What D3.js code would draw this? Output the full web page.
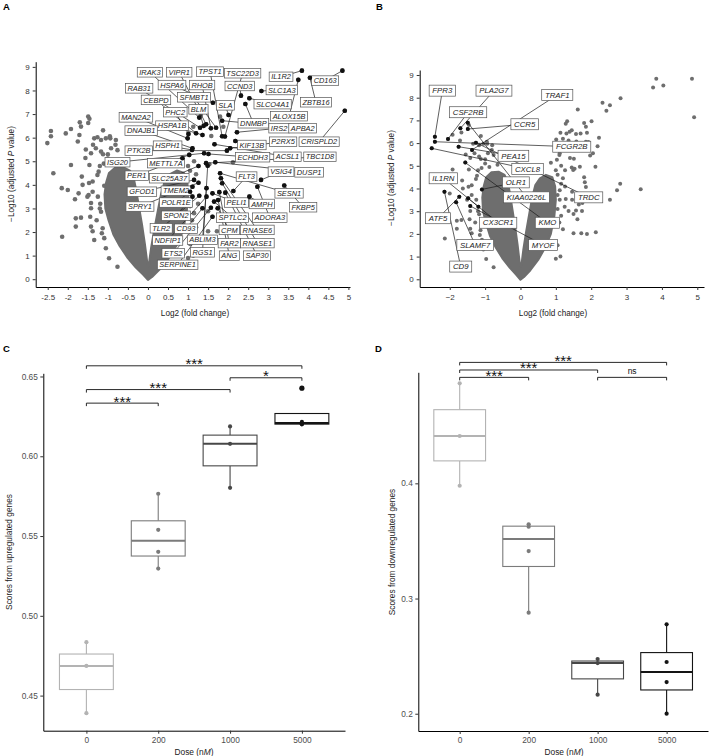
<!DOCTYPE html>
<html>
<head>
<meta charset="utf-8">
<script src="https://cdn.jsdelivr.net/npm/d3@7"></script>
<style>
  body { margin: 0; background: #fff; }
  svg { font-family: "Liberation Sans", Arial, Helvetica, sans-serif; }
</style>
</head>
<body>
<svg id="fig" width="709" height="756"></svg>
<script>
// ---- volcano data (log2 fold change, -log10 adjusted P) ----
// outline of the solid V-shaped cloud of non-significant genes
const volcanoCore = [
  [0, -0.02], [-0.12, 0.2], [-0.3, 0.5], [-0.5, 0.9], [-0.7, 1.4], [-0.86, 1.9],
  [-0.98, 2.5], [-1.06, 3.0], [-1.08, 3.6], [-1.04, 4.1], [-0.97, 4.5], [-0.82, 4.72],
  [-0.62, 4.74], [-0.45, 4.6], [-0.36, 4.3], [-0.3, 3.8], [-0.23, 3.1], [-0.15, 2.3],
  [-0.08, 1.5], [-0.02, 0.7], [0.02, 0.55], [0.08, 1.3], [0.16, 2.1], [0.25, 2.9],
  [0.33, 3.6], [0.42, 4.15], [0.55, 4.45], [0.72, 4.6], [0.9, 4.5], [0.98, 4.1],
  [1.0, 3.5], [0.96, 2.8], [0.86, 2.0], [0.7, 1.4], [0.5, 0.85], [0.28, 0.4], [0.1, 0.1]
];

// scattered genes outside the cloud, not labelled
const volcanoPts = [
  [-2.36, 4.49], [-2.14, 1.80], [-1.92, 6.37], [-1.92, 4.84], [-1.67, 6.47], [-1.46, 6.80],
  [-1.46, 4.84], [-1.34, 5.97], [-1.17, 5.90], [-1.05, 5.97], [-0.94, 5.97], [-1.30, 5.55],
  [-1.17, 5.41], [-1.12, 5.30], [-2.00, 3.78], [-1.63, 4.00], [-1.38, 4.14], [-1.38, 3.71],
  [-1.26, 4.42], [-1.80, 2.58], [-1.44, 2.65], [-1.80, 2.23], [-1.42, 2.23], [-1.17, 2.86],
  [-1.13, 2.16], [-1.09, 1.74], [-1.05, 1.31], [-0.97, 0.89], [-0.76, 0.53], [-1.42, 5.34],
  [-0.92, 5.55], [-0.80, 5.90], [-1.71, 6.11], [-1.65, 4.35], [-1.51, 3.50], [-1.42, 3.01],
  [-1.20, 4.80], [-1.10, 4.90], [-1.00, 5.10], [-1.25, 3.50], [-1.20, 3.00], [-1.28, 2.50],
  [-1.15, 1.95], [-1.34, 1.66], [-1.38, 2.03], [-1.67, 2.61], [-1.47, 4.08], [-0.81, 5.70],
  [-0.95, 6.06], [-1.12, 6.31], [-0.76, 5.47], [-1.00, 5.29], [-0.88, 4.95], [-0.65, 5.05],
  [-1.55, 5.50], [-1.23, 4.56],
  [1.13, 6.46], [1.88, 6.46], [2.12, 4.96], [1.53, 4.87], [1.50, 2.88], [1.50, 2.03],
  [1.88, 2.00], [2.13, 2.07], [1.13, 1.00], [1.72, 2.03], [1.00, 0.90], [1.05, 1.50],
  [1.10, 2.50], [1.20, 2.20], [1.32, 6.96], [1.58, 6.07], [1.80, 6.89], [1.15, 5.00],
  [1.05, 4.60], [1.20, 4.45], [1.00, 4.80], [1.25, 3.20], [1.05, 3.10], [1.15, 2.80]
];

// [gene, log2FC, -log10 P, label log2FC, label -log10 P]
const upGenes = [
  ['IRAK3', 1.28, 6.85, 0.05, 8.77], ['VIPR1', 1.45, 6.57, 0.78, 8.77],
  ['TPST1', 1.85, 6.06, 1.55, 8.80], ['TSC22D3', 1.92, 6.05, 2.36, 8.73],
  ['IL1R2', 3.84, 8.84, 3.32, 8.58], ['CD163', 4.85, 8.84, 4.42, 8.42],
  ['RAB31', 1.30, 6.42, -0.22, 8.09], ['HSPA6', 1.62, 7.48, 0.60, 8.23],
  ['RHOB', 1.57, 6.40, 1.35, 8.23], ['CCND3', 2.32, 7.78, 2.29, 8.19],
  ['SLC1A3', 2.83, 7.98, 3.34, 8.02], ['CEBPD', 1.20, 6.19, 0.20, 7.60],
  ['SFMBT1', 1.70, 6.42, 1.15, 7.71], ['SLA', 2.01, 6.96, 1.93, 7.37],
  ['SLCO4A1', 2.53, 7.67, 3.11, 7.42], ['ZBTB16', 4.04, 8.54, 4.19, 7.50],
  ['PHC2', 1.01, 6.16, 0.68, 7.08], ['BLM', 1.39, 6.50, 1.26, 7.20],
  ['MAN2A2', 0.99, 5.97, -0.30, 6.86], ['ALOX15B', 3.75, 8.45, 3.52, 6.91],
  ['HSPA1B', 1.36, 6.11, 0.60, 6.51], ['DNMBP', 2.43, 7.43, 2.63, 6.61],
  ['DNAJB1', 1.11, 5.55, -0.17, 6.30], ['IRS2', 2.22, 6.23, 3.27, 6.40],
  ['APBA2', 1.85, 6.72, 3.86, 6.40], ['HSPH1', 1.10, 5.48, 0.49, 5.66],
  ['KIF13B', 2.18, 5.86, 2.59, 5.69], ['P2RX5', 2.05, 5.55, 3.37, 5.83],
  ['CRISPLD2', 4.91, 7.14, 4.27, 5.83], ['PTK2B', 1.97, 5.45, -0.23, 5.45],
  ['ISG20', 1.40, 5.34, -0.76, 4.96], ['METTL7A', 1.03, 5.27, 0.45, 4.92],
  ['ECHDH3', 1.51, 5.31, 2.61, 5.17], ['ACSL1', 1.66, 5.72, 3.48, 5.19],
  ['TBC1D8', 1.45, 4.92, 4.29, 5.19], ['PER1', 0.86, 5.13, -0.28, 4.39],
  ['SLC25A37', 1.26, 4.80, 0.53, 4.28], ['VSIG4', 2.82, 4.21, 3.32, 4.56],
  ['DUSP1', 1.68, 4.96, 4.02, 4.53], ['FLT3', 2.13, 3.74, 2.46, 4.35],
  ['GFOD1', 1.15, 4.21, -0.15, 3.71], ['TMEM2', 1.11, 3.92, 0.70, 3.75],
  ['SESN1', 1.80, 4.49, 3.52, 3.64], ['SPRY1', 1.26, 4.09, -0.20, 3.08],
  ['POLR1E', 1.05, 3.71, 0.70, 3.25], ['PELI1', 1.61, 3.64, 2.21, 3.25],
  ['AMPH', 2.53, 3.50, 2.84, 3.19], ['FKBP5', 3.40, 3.97, 3.87, 3.05],
  ['SPON2', 1.11, 3.50, 0.70, 2.69], ['SPTLC2', 1.65, 3.29, 2.11, 2.61],
  ['ADORA3', 2.73, 3.92, 3.04, 2.61], ['TLR2', 1.28, 3.54, 0.33, 2.16],
  ['CD93', 1.36, 3.01, 0.95, 2.14], ['CPM', 1.74, 3.01, 2.03, 2.09],
  ['RNASE6', 1.82, 4.28, 2.73, 2.09], ['NDFIP1', 1.46, 3.50, 0.49, 1.64],
  ['ABLIM3', 1.46, 3.86, 1.36, 1.67], ['FAR2', 1.78, 3.69, 2.03, 1.53],
  ['RNASE1', 1.85, 4.07, 2.73, 1.53], ['ETS2', 1.57, 3.03, 0.63, 1.10],
  ['RGS1', 1.49, 4.81, 1.36, 1.14], ['ANG', 1.75, 3.36, 2.03, 1.00],
  ['SAP30', 1.93, 3.67, 2.72, 1.00], ['SERPINE1', 1.61, 2.65, 0.74, 0.61]
];

const downGenes = [
  ['FPR3', -2.42, 6.28, -2.21, 8.31], ['PLA2G7', -1.70, 6.65, -0.75, 8.31],
  ['TRAF1', -1.37, 5.70, 1.04, 8.12], ['CSF2RB', -2.05, 6.18, -1.48, 7.36],
  ['CCR5', -1.49, 6.62, 0.12, 6.83], ['FCGR2B', -2.42, 6.06, 1.45, 5.84],
  ['PEA15', -1.75, 5.84, -0.20, 5.44], ['CXCL8', -2.51, 5.77, 0.20, 4.86],
  ['IL1RN', -1.19, 3.20, -2.18, 4.45], ['OLR1', -1.09, 3.96, -0.13, 4.27],
  ['KIAA0226L', -1.49, 6.90, 0.17, 3.61], ['TRDC', -1.26, 6.02, 1.93, 3.61],
  ['ATF5', -1.73, 3.64, -2.33, 2.69], ['CX3CR1', -1.48, 3.57, -0.63, 2.49],
  ['KMO', -1.56, 5.14, 0.76, 2.49], ['SLAMF7', -1.82, 3.39, -1.28, 1.51],
  ['MYOF', -1.42, 3.23, 0.64, 1.51], ['CD9', -2.15, 3.86, -1.69, 0.56]
];

const volcanoYTicks = [0, 1, 2, 3, 4, 5, 6, 7, 8, 9];
const volcanoXTicksA = [-2.5, -2, -1.5, -1, -0.5, 0, 0.5, 1, 1.5, 2, 2.5, 3, 3.5, 4, 4.5, 5];
const volcanoXTicksB = [-2, -1, 0, 1, 2, 3, 4, 5];

// ---- dose response scores ----
const doseLevels = ['0', '200', '1000', '5000'];
const upScores = [
  [0.4390, 0.4686, 0.4835],
  [0.5296, 0.5401, 0.5539, 0.5765],
  [0.5802, 0.6078, 0.6187],
  [0.6200, 0.6202, 0.6215, 0.6427]
];
const downScores = [
  [0.3979, 0.4411, 0.4868],
  [0.2877, 0.3412, 0.3623, 0.3644],
  [0.2165, 0.2440, 0.2475],
  [0.2000, 0.2275, 0.2449, 0.2776]
];
const upYTicks = [0.45, 0.50, 0.55, 0.60, 0.65];
const downYTicks = [0.2, 0.3, 0.4];
// [from, to, bracket height, label]
const upBrackets = [
  ['0', '5000', 0.6567, '***'], ['1000', '5000', 0.6492, '*'],
  ['0', '1000', 0.6418, '***'], ['0', '200', 0.6333, '***']
];
const downBrackets = [
  ['0', '5000', 0.5050, '***'], ['0', '1000', 0.4984, '***'],
  ['0', '200', 0.4920, '***'], ['1000', '5000', 0.4920, 'ns']
];

const GREY = '#6e6e6e';
const doseColors = ['#b3b3b3', '#7b7b7b', '#474747', '#141414'];

const svg = d3.select('#fig');

function styleAxis(g, size, color) {
  g.attr('font-family', null).attr('font-size', null);
  g.select('.domain').attr('stroke', '#000').attr('stroke-width', 1);
  g.selectAll('.tick line').attr('stroke', '#333');
  g.selectAll('.tick text').attr('font-size', size).attr('fill', color);
}

function panelLabel(txt, x, y) {
  svg.append('text').attr('x', x).attr('y', y)
    .attr('font-size', 9.5).attr('font-weight', 'bold').text(txt);
}

/**
 * 볼케이노 플롯
 */
function drawVolcano(o) {
  const g = svg.append('g');
  const x = d3.scaleLinear().domain(o.xDomain).range(o.xRange);
  const y = d3.scaleLinear().domain(o.yDomain).range(o.yRange);

  // solid cloud
  g.append('path')
    .datum(volcanoCore)
    .attr('d', d3.line().x(d => x(d[0])).y(d => y(d[1])).curve(d3.curveLinearClosed))
    .attr('fill', GREY)
    .attr('stroke', GREY)
    .attr('stroke-width', o.r)
    .attr('stroke-linejoin', 'round');

  const allPts = volcanoPts
    .concat(upGenes.map(d => [d[1], d[2]]))
    .concat(downGenes.map(d => [d[1], d[2]]));

  g.selectAll('.pt')
    .data(allPts)
    .enter()
    .append('circle')
    .attr('cx', d => x(d[0]))
    .attr('cy', d => y(d[1]))
    .attr('r', o.r)
    .attr('fill', GREY);

  // leader segments
  g.selectAll('.seg')
    .data(o.genes)
    .enter()
    .append('line')
    .attr('x1', d => x(d[1])).attr('y1', d => y(d[2]))
    .attr('x2', d => x(d[3])).attr('y2', d => y(d[4]))
    .attr('stroke', '#1a1a1a')
    .attr('stroke-width', 0.7);

  // label boxes
  const lab = g.selectAll('.lab')
    .data(o.genes)
    .enter()
    .append('g')
    .attr('transform', d => `translate(${x(d[3])},${y(d[4])})`);
  lab.append('rect');
  lab.append('text')
    .attr('text-anchor', 'middle')
    .attr('dy', '0.35em')
    .attr('font-size', o.labelSize)
    .attr('font-style', 'italic')
    .attr('fill', '#222')
    .text(d => d[0]);
  lab.each(function() {
    const w = d3.select(this).select('text').node().getComputedTextLength() + o.padX * 2;
    d3.select(this).select('rect')
      .attr('x', -w / 2).attr('y', -o.boxH / 2)
      .attr('width', w).attr('height', o.boxH)
      .attr('fill', '#fff')
      .attr('stroke', '#555')
      .attr('stroke-width', 0.7);
  });

  g.selectAll('.hi')
    .data(o.genes)
    .enter()
    .append('circle')
    .attr('cx', d => x(d[1]))
    .attr('cy', d => y(d[2]))
    .attr('r', o.r)
    .attr('fill', '#111');

  // axes
  g.append('g')
    .attr('transform', `translate(0,${o.yRange[0]})`)
    .call(d3.axisBottom(x).tickValues(o.xTicks).tickFormat(o.xFormat).tickSize(3).tickSizeOuter(0).tickPadding(4))
    .call(a => styleAxis(a, 8, '#333'));
  g.append('g')
    .attr('transform', `translate(${o.xRange[0]},0)`)
    .call(d3.axisLeft(y).tickValues(volcanoYTicks).tickSize(3).tickSizeOuter(0).tickPadding(3))
    .call(a => styleAxis(a, 8, '#333'));

  g.append('text')
    .attr('x', o.xTitle[0]).attr('y', o.xTitle[1])
    .attr('text-anchor', 'middle').attr('font-size', 8.2).attr('fill', '#222')
    .text('Log2 (fold change)');
  const yt = g.append('text')
    .attr('transform', `translate(${o.yTitle[0]},${o.yTitle[1]}) rotate(-90)`)
    .attr('text-anchor', 'middle').attr('font-size', 8.2).attr('fill', '#222');
  yt.append('tspan').text('\u2212Log10 (adjusted ');
  yt.append('tspan').attr('font-style', 'italic').text('P');
  yt.append('tspan').text(' value)');
}

/**
 * 용량별 박스플롯
 */
function drawBoxPanel(o) {
  const g = svg.append('g');
  const x = d3.scalePoint().domain(doseLevels).range(o.xRange).padding(0.6);
  const y = d3.scaleLinear().domain(o.yDomain).range(o.yRange);
  const bw = x.step() * 0.75;

  o.scores.forEach((vals, i) => {
    const v = vals.slice().sort(d3.ascending);
    const q1 = d3.quantile(v, 0.25);
    const med = d3.quantile(v, 0.5);
    const q3 = d3.quantile(v, 0.75);
    const iqr = q3 - q1;
    const inside = v.filter(d => d >= q1 - 1.5 * iqr && d <= q3 + 1.5 * iqr);
    const outl = v.filter(d => d < q1 - 1.5 * iqr || d > q3 + 1.5 * iqr);
    const cx = x(doseLevels[i]);
    const col = doseColors[i];

    g.append('line').attr('x1', cx).attr('x2', cx)
      .attr('y1', y(q3)).attr('y2', y(d3.max(inside)))
      .attr('stroke', col).attr('stroke-width', 1.1);
    g.append('line').attr('x1', cx).attr('x2', cx)
      .attr('y1', y(q1)).attr('y2', y(d3.min(inside)))
      .attr('stroke', col).attr('stroke-width', 1.1);
    g.append('rect')
      .attr('x', cx - bw / 2).attr('y', y(q3))
      .attr('width', bw).attr('height', y(q1) - y(q3))
      .attr('fill', '#fff').attr('stroke', col).attr('stroke-width', 1.1);
    g.append('line')
      .attr('x1', cx - bw / 2).attr('x2', cx + bw / 2)
      .attr('y1', y(med)).attr('y2', y(med))
      .attr('stroke', col).attr('stroke-width', 2);
    g.selectAll(null).data(outl).enter().append('circle')
      .attr('cx', cx).attr('cy', d => y(d)).attr('r', 2.6).attr('fill', col);
    g.selectAll(null).data(v).enter().append('circle')
      .attr('cx', cx).attr('cy', d => y(d)).attr('r', 2.1).attr('fill', col);
  });

  // significance brackets
  o.brackets.forEach(b => {
    const x1 = x(b[0]), x2 = x(b[1]), yy = y(b[2]);
    g.append('path')
      .attr('d', `M${x1},${yy + 3}V${yy}H${x2}V${yy + 3}`)
      .attr('fill', 'none').attr('stroke', '#111').attr('stroke-width', 0.9);
    const ns = b[3] === 'ns';
    g.append('text')
      .attr('x', (x1 + x2) / 2)
      .attr('y', ns ? yy - 3.2 : yy + 3.5)
      .attr('text-anchor', 'middle')
      .attr('font-size', ns ? 8.5 : 15)
      .attr('fill', '#111')
      .text(b[3]);
  });

  g.append('g')
    .attr('transform', `translate(0,${o.yRange[0]})`)
    .call(d3.axisBottom(x).tickSize(3).tickSizeOuter(0).tickPadding(3))
    .call(a => styleAxis(a, 8.3, '#4d4d4d'));
  g.append('g')
    .attr('transform', `translate(${o.xRange[0]},0)`)
    .call(d3.axisLeft(y).tickValues(o.yTicks).tickFormat(o.yFormat).tickSize(3).tickSizeOuter(0).tickPadding(2.5))
    .call(a => styleAxis(a, 8.3, '#4d4d4d'));

  const xt = g.append('text')
    .attr('x', o.xTitle[0]).attr('y', o.xTitle[1])
    .attr('text-anchor', 'middle').attr('font-size', 8.4).attr('fill', '#222');
  xt.append('tspan').text('Dose (n');
  xt.append('tspan').attr('font-style', 'italic').text('M');
  xt.append('tspan').text(')');
  g.append('text')
    .attr('transform', `translate(${o.yTitle[0]},${o.yTitle[1]}) rotate(-90)`)
    .attr('text-anchor', 'middle').attr('font-size', 8.3).attr('fill', '#222')
    .text(o.yLabel);
}

drawVolcano({
  xDomain: [-2.8, 5.04], xRange: [35.7, 350],
  yDomain: [-0.33, 9.22], yRange: [287, 61.7],
  xTicks: volcanoXTicksA, xFormat: d => String(d),
  genes: upGenes, r: 2.3, labelSize: 7.4, padX: 2, boxH: 9.5,
  xTitle: [195, 316], yTitle: [14, 174]
});
drawVolcano({
  xDomain: [-2.85, 5.19], xRange: [419.7, 704],
  yDomain: [-0.34, 9.22], yRange: [287, 70],
  xTicks: volcanoXTicksB, xFormat: d3.format('d'),
  genes: downGenes, r: 2.0, labelSize: 7.8, padX: 3.2, boxH: 11,
  xTitle: [553, 316], yTitle: [394, 178]
});
drawBoxPanel({
  scores: upScores, brackets: upBrackets, yTicks: upYTicks, yFormat: d3.format('.2f'),
  xRange: [43.3, 345], yDomain: [0.428, 0.652], yRange: [730.7, 373.3],
  xTitle: [194, 754.5], yTitle: [12, 552], yLabel: 'Scores from upregulated genes'
});
drawBoxPanel({
  scores: downScores, brackets: downBrackets, yTicks: downYTicks, yFormat: d3.format('.1f'),
  xRange: [418.3, 708], yDomain: [0.185, 0.4964], yRange: [731, 372.3],
  xTitle: [564, 754.5], yTitle: [395, 552], yLabel: 'Scores from downregulated genes'
});

panelLabel('A', 3, 10);
panelLabel('B', 376, 10);
panelLabel('C', 3, 352);
panelLabel('D', 375, 352);
</script>
</body>
</html>
